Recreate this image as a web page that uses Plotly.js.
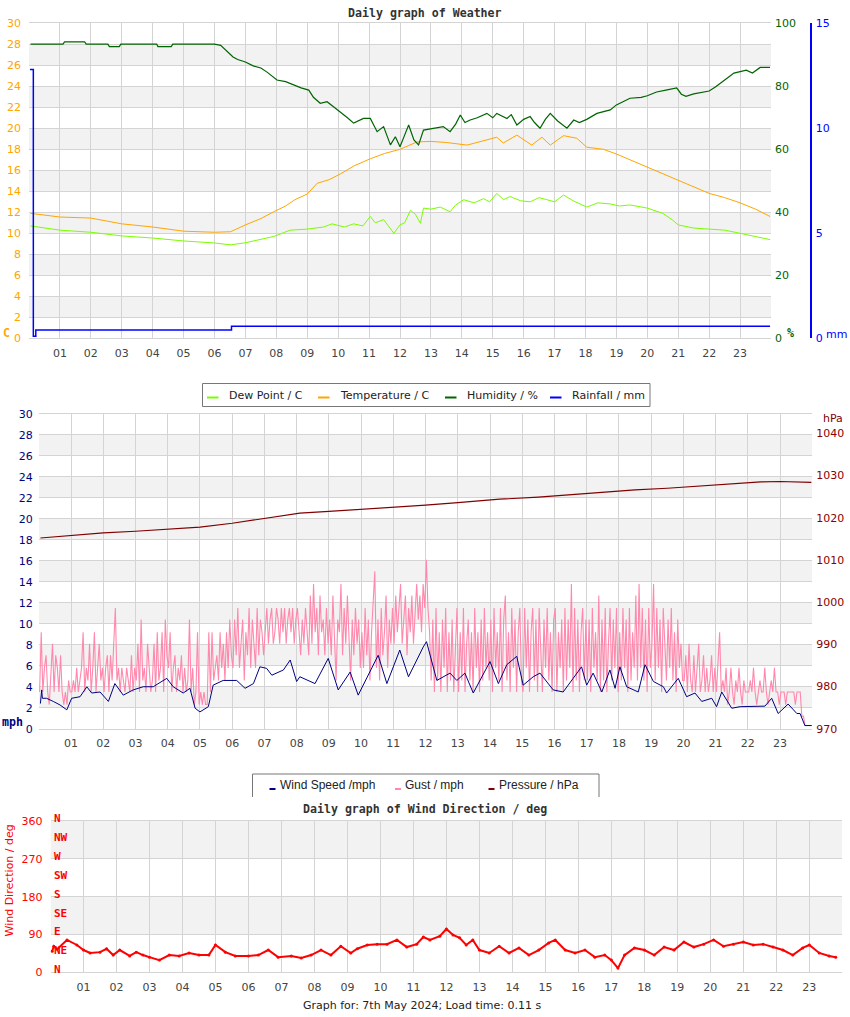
<!DOCTYPE html>
<html>
<head>
<meta charset="utf-8">
<script src="https://cdn.plot.ly/plotly-3.0.1.min.js"></script>
<style>
  body { margin: 0; background: #fff; }
  #chart { width: 850px; height: 1017px; }
</style>
</head>
<body>
<div id="chart"></div>
<script>
// ---- data ----
const hourTicks = [1,2,3,4,5,6,7,8,9,10,11,12,13,14,15,16,17,18,19,20,21,22,23];
const hourLabels = ["01","02","03","04","05","06","07","08","09","10","11","12",
                    "13","14","15","16","17","18","19","20","21","22","23"];

// top panel: weather
const tempHours = [0.05,1,2,3,4,5,6,6.52,7.0,7.5,7.92,8.3,8.6,9.0,9.32,9.7,10.07,10.5,11.04,11.5,12.0,12.55,
                   13.0,13.5,14.17,14.7,15.13,15.34,15.78,16.26,16.59,16.86,17.29,17.72,18.04,18.58,19.0,19.44,
                   20,20.5,21,21.5,22,22.5,23,23.5,23.97];
const tempVals = [11.9,11.55,11.45,10.9,10.6,10.2,10.1,10.15,10.8,11.4,12.06,12.6,13.2,13.74,14.76,15.1,15.65,16.4,
                  17.1,17.6,18.0,18.7,18.75,18.65,18.4,18.8,19.15,18.6,19.35,18.4,19.15,18.4,19.3,19.05,18.2,18.0,
                  17.55,17.0,16.3,15.6,15.0,14.4,13.8,13.4,12.9,12.3,11.6];

const dewHours = [0.05,1,2,3,4,5,6,6.52,7.0,7.5,7.92,8.45,9.0,9.53,9.8,10.2,10.5,10.8,11.04,11.2,11.47,11.65,11.8,
                  12.0,12.15,12.34,12.5,12.66,12.76,13.0,13.3,13.62,13.8,14.06,14.4,14.7,14.9,15.13,15.35,15.56,
                  15.9,16.21,16.5,16.75,17.0,17.29,17.6,18.04,18.4,18.8,19.1,19.44,20,20.5,20.8,21,21.5,22,22.5,
                  23,23.5,23.97];
const dewVals = [10.7,10.3,10.1,9.75,9.55,9.27,9.08,8.9,9.1,9.4,9.7,10.3,10.4,10.6,10.9,10.6,10.9,10.7,11.6,11.0,
                 11.3,10.6,10.0,10.8,11.0,12.2,11.8,10.95,12.4,12.3,12.5,12.05,12.7,13.2,12.9,13.3,13.0,13.8,13.2,
                 13.5,13.1,13.0,13.4,13.2,13.0,13.65,13.1,12.5,12.9,12.8,12.6,12.7,12.4,11.9,11.3,10.8,10.5,10.4,
                 10.3,10.0,9.7,9.4];

const humHours = [0.05,1.1,1.15,1.8,1.85,2.55,2.6,2.92,2.97,4.13,4.17,4.6,4.65,5.2,5.4,6.0,6.2,6.35,6.6,6.75,7.0,
                  7.25,7.5,7.7,8.02,8.3,8.56,8.8,9.05,9.2,9.42,9.64,9.85,10.07,10.3,10.5,10.82,11.04,11.26,11.47,
                  11.69,11.85,12.0,12.15,12.28,12.45,12.6,12.76,13.0,13.2,13.4,13.62,13.8,13.95,14.1,14.27,14.5,
                  14.81,15.0,15.13,15.3,15.46,15.6,15.78,16.0,16.21,16.35,16.53,16.7,16.86,17.1,17.4,17.62,17.8,
                  18.04,18.37,18.8,19.0,19.44,19.8,20.0,20.3,20.6,20.95,21.1,21.25,21.5,21.8,22.0,22.2,22.4,22.6,
                  22.8,23.2,23.4,23.65,23.97];
const humVals = [93.4,93.4,94.1,94.1,93.4,93.4,92.6,92.6,93.4,93.4,92.6,92.6,93.4,93.4,93.4,93.4,93.0,91.5,89.3,
                 88.5,87.7,86.5,85.8,84.5,82.0,81.5,80.4,79.5,78.8,76.5,74.6,75.1,73.5,71.9,70.0,68.3,69.8,69.8,
                 65.6,67.2,61.4,64.0,60.8,64.5,67.7,63.0,61.4,66.1,66.5,66.7,67.2,65.6,68.0,70.9,68.5,69.3,70.0,
                 71.4,70.0,71.4,70.5,69.8,71.0,67.7,69.5,70.4,68.5,66.7,69.5,71.4,69.0,66.7,69.3,68.5,69.5,71.4,
                 72.5,74.1,76.2,76.5,77.0,78.2,78.8,79.5,77.5,76.8,77.6,78.1,78.5,79.8,81.4,82.7,84.2,85.1,84.2,
                 86.0,86.0];

const rainHours = [0.03,0.14,0.22,6.55,23.97];
const rainVals = [12.8,0.1,0.4,0.57,0.57];

// middle panel: wind / pressure
const windHours = [0.05,0.09,0.11,0.24,0.45,0.66,0.87,1.02,1.28,1.49,1.64,1.9,2.16,2.36,2.62,2.93,3.24,3.55,3.97,
                   4.17,4.48,4.69,4.85,5.0,5.26,5.41,5.72,6.14,6.4,6.66,6.86,7.07,7.23,7.59,7.8,8.0,8.1,8.57,8.98,
                   9.29,9.66,9.91,10.53,10.8,11.2,11.47,11.93,12.03,12.35,12.76,12.97,13.22,13.48,14.0,14.26,14.52,
                   14.83,15.03,15.34,15.55,15.96,16.27,16.58,16.84,17.0,17.2,17.47,17.72,17.88,18.03,18.24,18.6,
                   18.81,19.07,19.38,19.48,19.84,20.1,20.36,20.57,20.88,21.03,21.19,21.5,21.76,22.17,22.53,22.74,
                   22.94,23.25,23.52,23.62,23.77,23.98];
const windVals = [2.4,3.7,2.9,2.9,2.6,2.26,1.8,2.9,3.05,4.0,3.4,3.5,2.6,4.3,3.2,3.7,4.0,4.0,4.8,4.0,3.4,3.85,1.95,
                  1.6,2.1,4.15,4.6,4.6,3.85,4.3,5.9,5.75,5.1,5.6,6.55,4.5,4.95,4.3,6.7,3.7,5.4,3.2,7.0,4.3,7.5,4.95,
                  7.8,8.3,4.6,5.3,4.6,5.3,3.4,6.4,4.3,6.1,6.9,4.15,4.95,5.3,3.7,3.5,4.8,5.9,4.15,5.3,3.5,5.6,3.85,
                  5.9,4.0,3.5,6.1,4.5,4.0,3.4,4.8,3.05,3.4,2.6,2.9,2.1,3.5,1.95,2.1,2.15,2.15,2.9,1.45,2.35,1.45,
                  1.45,0.3,0.3];

// gust, one reading every 3 minutes from 00:01 (one row per hour)
const gustVals = [
  3.5,9.2,3.5,5.8,7.0,3.5,2.3,5.8,8.1,3.5,7.0,5.8,3.5,7.0,3.5,2.3,3.5,2.3,4.6,3.5,
  3.5,4.6,3.5,5.8,3.5,4.6,5.8,9.2,3.5,5.8,4.6,8.1,3.5,5.8,9.2,3.5,5.8,8.1,4.6,5.8,
  3.5,5.8,7.0,3.5,7.0,4.6,8.1,11.5,4.6,5.8,3.5,5.8,4.6,3.5,5.8,4.6,3.5,7.0,3.5,5.8,
  4.6,8.1,3.5,10.4,4.6,5.8,3.5,8.1,5.8,3.5,4.6,8.1,3.5,9.2,4.6,5.8,9.2,3.5,10.4,7.0,
  5.8,9.2,3.5,5.8,7.0,3.5,5.8,4.6,7.0,3.5,5.8,3.5,4.6,10.4,3.5,5.8,2.3,3.5,9.2,2.3,
  3.5,2.3,3.5,2.3,2.3,9.2,3.5,9.2,4.6,5.8,7.0,4.6,9.2,5.8,8.1,4.6,9.2,5.8,10.4,7.0,
  5.8,10.4,7.0,11.5,5.8,8.1,10.4,4.6,9.2,7.0,11.5,5.8,10.4,8.1,5.8,11.5,7.0,10.4,9.2,7.0,
  9.2,11.5,8.1,10.4,11.5,8.1,9.2,11.5,10.4,8.1,11.5,9.2,11.5,8.1,10.4,11.5,9.2,11.5,8.1,10.4,
  11.5,9.2,7.0,10.4,8.1,11.5,9.2,7.0,12.7,8.1,13.8,9.2,11.5,7.0,12.7,9.2,10.4,7.0,11.5,8.1,
  10.4,7.0,12.7,8.1,4.6,10.4,9.2,13.8,7.0,11.5,8.1,12.7,9.2,4.6,10.4,7.0,11.5,8.1,10.4,5.8,
  9.2,5.8,11.5,7.0,10.4,4.6,9.2,12.7,15.0,5.8,10.4,4.6,11.5,7.0,9.2,12.7,5.8,10.4,8.1,11.5,
  8.1,12.7,9.2,11.5,13.8,8.1,10.4,12.7,7.0,11.5,9.2,12.7,8.1,11.5,13.8,10.4,12.7,9.2,13.8,11.5,
  16.1,11.5,9.2,4.6,10.4,3.5,11.5,4.6,9.2,3.5,10.4,5.8,11.5,3.5,9.2,4.6,10.4,3.5,8.1,11.5,
  3.5,9.2,4.6,11.5,3.5,8.1,10.4,4.6,9.2,3.5,11.5,5.8,9.2,3.5,10.4,4.6,11.5,5.8,9.2,4.6,
  10.4,3.5,11.5,5.8,9.2,4.6,11.5,3.5,10.4,12.7,4.6,9.2,3.5,11.5,5.8,10.4,3.5,9.2,11.5,4.6,
  3.5,11.5,5.8,10.4,3.5,9.2,11.5,4.6,10.4,3.5,11.5,8.1,3.5,10.4,5.8,11.5,4.6,9.2,3.5,10.4,
  11.5,3.5,9.2,5.8,10.4,3.5,11.5,4.6,10.4,5.8,13.8,3.5,11.5,4.6,10.4,3.5,9.2,11.5,4.6,10.4,
  4.6,10.4,3.5,11.5,5.8,9.2,4.6,12.7,3.5,10.4,4.6,11.5,3.5,8.1,11.5,4.6,10.4,5.8,11.5,3.5,
  9.2,4.6,11.5,5.8,10.4,3.5,11.5,4.6,9.2,5.8,12.7,4.6,13.8,5.8,11.5,4.6,10.4,3.5,11.5,5.8,
  8.1,13.8,4.6,11.5,5.8,10.4,3.5,11.5,8.1,4.6,10.4,5.8,11.5,4.6,9.2,3.5,10.4,5.8,8.1,4.6,
  4.6,7.0,3.5,8.1,4.6,3.5,7.0,3.5,5.8,8.1,3.5,4.6,7.0,3.5,5.8,3.5,4.6,7.0,3.5,5.8,
  3.5,7.0,9.2,3.5,4.6,3.5,5.8,2.3,3.5,5.8,3.5,2.3,4.6,3.5,5.8,3.5,2.3,4.6,3.5,3.5,
  3.5,4.6,3.5,5.8,3.5,2.3,3.5,4.6,3.5,3.5,5.8,3.5,2.3,3.5,4.6,3.5,5.8,3.5,3.5,2.3,
  3.5,3.5,3.5,2.3,3.5,3.5,3.5,3.5,3.5,2.3,3.5,3.5,3.5,1.2,1.2,0.3,0.3,0.3,0.3,0.3
];

const presHours = [0.05,1,2,3,4,5,6,6.9,7.5,8.1,9,10,11.2,12,13,14.3,15.5,16.5,17.4,18.5,19.5,20.5,21.5,22.4,23,23.97];
const presVals = [1015.2,1015.8,1016.4,1016.8,1017.3,1017.8,1018.7,1019.7,1020.4,1021.1,1021.5,1022.0,1022.5,
                  1023.0,1023.6,1024.4,1024.9,1025.5,1026.1,1026.6,1027.0,1027.5,1028.1,1028.5,1028.6,1028.4];

// bottom panel: wind direction
const dirHours = [0.05,0.1,0.2,0.5,0.8,1.0,1.2,1.5,1.7,1.9,2.1,2.4,2.6,2.8,3.0,3.3,3.6,3.9,4.2,4.5,4.8,5.0,5.3,5.6,
                  6.0,6.3,6.6,6.9,7.3,7.6,7.9,8.2,8.5,8.8,9.1,9.3,9.6,9.9,10.2,10.5,10.8,11.1,11.3,11.5,11.8,12.0,
                  12.2,12.4,12.6,12.8,13.0,13.3,13.6,13.9,14.2,14.5,14.8,15.1,15.3,15.6,15.9,16.2,16.5,16.8,17.0,
                  17.2,17.4,17.7,18.0,18.3,18.6,18.9,19.2,19.5,19.8,20.1,20.4,20.7,21.0,21.3,21.6,21.9,22.2,22.5,
                  22.8,23.0,23.3,23.6,23.8];
const dirVals = [50,62,55,77,65,53,46,48,56,41,53,39,48,41,36,29,41,39,46,41,41,65,48,39,39,41,53,36,39,34,41,53,
                 41,62,46,56,65,67,67,77,60,67,84,77,86,103,89,82,65,77,53,46,62,46,58,41,53,70,77,53,46,53,36,41,
                 29,10,41,58,53,41,60,53,72,60,67,77,62,67,72,65,67,60,53,41,58,65,46,39,36];

const compassNames = ["N","NE","E","SE","S","SW","W","NW","N"];
const compassDegs = [0,45,90,135,180,225,270,315,360];

const bandsC = [2,6,10,14,18,22,26];
const bandsDir = [90,270];

// ---- page geometry helpers ----
const W = 850, H = 1017;
function px(x) { return x / W; }
function py(y) { return 1 - y / H; }

const gridCol = "#d4d4d4";
const bandCol = "#f2f2f2";
const tickFont = {family: "DejaVu Sans", size: 11};

function xAxis(domain, anchor) {
    return {
        domain: domain, anchor: anchor, range: [0, 24],
        tickvals: hourTicks, ticktext: hourLabels,
        showgrid: true, gridcolor: gridCol, zeroline: false,
        showline: true, mirror: true, linecolor: gridCol,
        ticks: "", ticklabelstandoff: 4,
        tickfont: Object.assign({color: "#444"}, tickFont)
    };
}

// ---- traces ----
const data = [
    {x: dewHours, y: dewVals, name: "Dew Point / C", mode: "lines", line: {color: "#7cfc00", width: 1}},
    {x: tempHours, y: tempVals, name: "Temperature / C", mode: "lines", line: {color: "#ffa500", width: 1}},
    {x: humHours, y: humVals, name: "Humidity / %", mode: "lines", yaxis: "y2", line: {color: "#006400", width: 1.2}},
    {x: rainHours, y: rainVals, name: "Rainfall / mm", mode: "lines", yaxis: "y3", line: {color: "#0000ff", width: 1.5, shape: "hv"}},

    {y: gustVals, x0: 0.025, dx: 0.05, name: "Gust / mph", mode: "lines", xaxis: "x2", yaxis: "y4", line: {color: "#ff88ac", width: 1.1}},
    {x: windHours, y: windVals, name: "Wind Speed /mph", mode: "lines", xaxis: "x2", yaxis: "y4", line: {color: "#000080", width: 1}},
    {x: presHours, y: presVals, name: "Pressure / hPa", mode: "lines", xaxis: "x2", yaxis: "y5", line: {color: "#800000", width: 1.2}},

    {x: dirHours, y: dirVals, name: "Wind Direction", mode: "lines+markers", xaxis: "x3", yaxis: "y6",
     line: {color: "#ff0000", width: 2}, marker: {color: "#ff0000", size: 3}}
];

// ---- shapes: shaded bands + legend boxes ----
const shapes = [];
bandsC.forEach(function (b) {
    shapes.push({type: "rect", xref: "x", yref: "y", x0: 0, x1: 24, y0: b, y1: b + 2, fillcolor: bandCol, line: {width: 0}, layer: "below"});
    shapes.push({type: "rect", xref: "x2", yref: "y4", x0: 0, x1: 24, y0: b, y1: b + 2, fillcolor: bandCol, line: {width: 0}, layer: "below"});
});
bandsDir.forEach(function (b) {
    shapes.push({type: "rect", xref: "x3", yref: "y6", x0: 0, x1: 24, y0: b, y1: b + 90, fillcolor: bandCol, line: {width: 0}, layer: "below"});
});

const annotations = [];
function label(text, x, y, font, extra) {
    annotations.push(Object.assign({text: text, xref: "paper", yref: "paper", x: px(x), y: py(y),
        showarrow: false, font: font, xanchor: "center", yanchor: "middle"}, extra || {}));
}

// legend 1 (weather)
shapes.push({type: "rect", xref: "paper", yref: "paper", x0: px(202.5), x1: px(650), y0: py(406.5), y1: py(383.5),
             fillcolor: "#fff", line: {color: "#777", width: 1}});
const leg1 = [data[0], data[1], data[2], data[3]];
const leg1X = [207, 318, 445, 550];
leg1.forEach(function (t, i) {
    shapes.push({type: "line", xref: "paper", yref: "paper", x0: px(leg1X[i]), x1: px(leg1X[i] + 11.5),
                 y0: py(397.5), y1: py(397.5), line: {color: t.line.color, width: 2}});
    label(t.name, leg1X[i] + 20, 396, {family: "DejaVu Sans", size: 11, color: "#222"}, {xanchor: "left"});
});

// legend 2 (wind)
shapes.push({type: "path", xref: "paper", yref: "paper",
             path: "M" + px(252.5) + "," + py(797) + " L" + px(252.5) + "," + py(774) + " L" + px(599) + "," + py(774) + " L" + px(599) + "," + py(797),
             line: {color: "#777", width: 1}});
const leg2 = [data[5], data[4], data[6]];
const leg2X = [269.5, 395, 488.5];
leg2.forEach(function (t, i) {
    shapes.push({type: "line", xref: "paper", yref: "paper", x0: px(leg2X[i]), x1: px(leg2X[i] + 6),
                 y0: py(789), y1: py(789), line: {color: t.line.color, width: 2}});
    label(t.name, leg2X[i] + 8, 785, {family: "Liberation Sans", size: 12, color: "#222"}, {xanchor: "left"});
});

// titles and axis unit labels
const titleFont = {family: "DejaVu Sans Mono", size: 11.6, color: "#333", weight: "bold"};
label("Daily graph of Weather", 425, 13, titleFont);
label("Daily graph of Wind Direction / deg", 425, 809, titleFont);
label("Graph for: 7th May 2024; Load time: 0.11 s", 422, 1005, {family: "DejaVu Sans", size: 11, color: "#222"});

label("C", 6, 333, {family: "DejaVu Sans Mono", size: 11.6, color: "#ffa500", weight: "bold"});
label("%", 790, 333, {family: "DejaVu Sans Mono", size: 11.6, color: "#006400", weight: "bold"});
label("mm", 836, 334, {family: "DejaVu Sans", size: 11, color: "#0000ff"});
label("mph", 12, 722, {family: "DejaVu Sans Mono", size: 11.6, color: "#000080", weight: "bold"});
label("hPa", 832.5, 418.5, {family: "DejaVu Sans", size: 11, color: "#800000"});
label("Wind Direction / deg", 8.5, 881, {family: "DejaVu Sans", size: 11, color: "#ff0000"}, {textangle: -90});

compassNames.forEach(function (n, i) {
    annotations.push({text: n, xref: "paper", yref: "y6", x: px(52), y: compassDegs[i], yshift: 2.5,
        xanchor: "left", yanchor: "middle", showarrow: false,
        font: {family: "DejaVu Sans Mono", size: 11, color: "#ff0000", weight: "bold"}});
});

// ---- layout ----
const layout = {
    width: W, height: H, autosize: false,
    margin: {l: 0, r: 0, t: 0, b: 0},
    paper_bgcolor: "#fff", plot_bgcolor: "#fff",
    showlegend: false,
    xaxis: xAxis([px(29), px(771)], "y"),
    yaxis: {domain: [py(338.3), py(23.3)], range: [0, 30], dtick: 2, anchor: "x",
            showgrid: true, gridcolor: gridCol, zeroline: false, ticks: "", ticklabelstandoff: 7,
            tickfont: Object.assign({color: "#ffa500"}, tickFont)},
    yaxis2: {overlaying: "y", side: "right", anchor: "x", range: [0, 100], dtick: 20,
             showgrid: false, zeroline: false, ticks: "", ticklabelstandoff: 3,
             tickfont: Object.assign({color: "#006400"}, tickFont)},
    yaxis3: {overlaying: "y", side: "right", anchor: "free", position: px(810.5), range: [0, 15], dtick: 5,
             showgrid: false, zeroline: false, showline: true, linecolor: "#0000ff", linewidth: 2,
             ticks: "", ticklabelstandoff: 2, tickfont: Object.assign({color: "#0000ff"}, tickFont)},

    xaxis2: xAxis([px(38.8), px(812.3)], "y4"),
    yaxis4: {domain: [py(728.7), py(414)], range: [0, 30], dtick: 2, anchor: "x2",
             showgrid: true, gridcolor: gridCol, zeroline: false, ticks: "", ticklabelstandoff: 5,
             tickfont: Object.assign({color: "#000080"}, tickFont)},
    yaxis5: {overlaying: "y4", side: "right", anchor: "x2", range: [970, 1044.6], tick0: 970, dtick: 10,
             showgrid: false, zeroline: false, ticks: "", ticklabelstandoff: 3,
             tickfont: Object.assign({color: "#8b0000"}, tickFont)},

    xaxis3: xAxis([px(50.5), px(842.3)], "y6"),
    yaxis6: {domain: [py(972.3), py(821)], range: [0, 360], tickvals: [0, 90, 180, 270, 360], anchor: "x3",
             showgrid: true, gridcolor: gridCol, zeroline: false, ticks: "", ticklabelstandoff: 7,
             tickfont: Object.assign({color: "#ff0000"}, tickFont)},

    shapes: shapes,
    annotations: annotations
};

const config = {
    displayModeBar: false,
    staticPlot: true
};

Plotly.newPlot("chart", data, layout, config);
</script>
</body>
</html>
